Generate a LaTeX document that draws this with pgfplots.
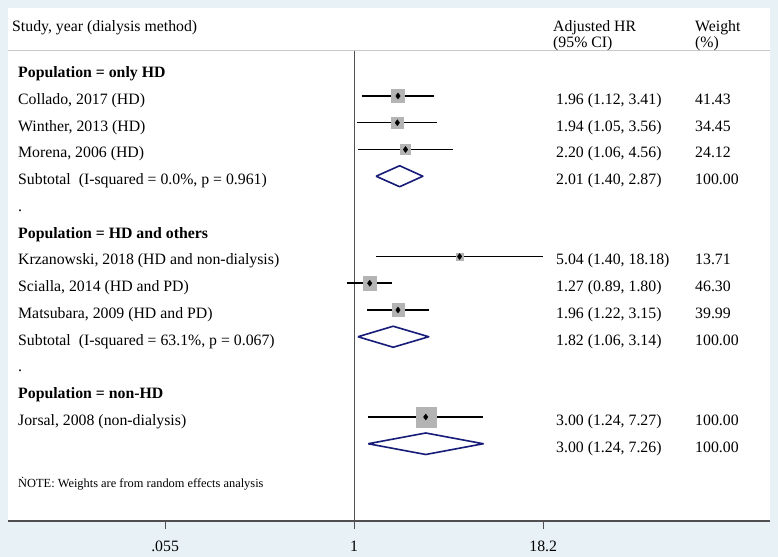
\documentclass[border=0pt]{standalone}
\usepackage{pgfplots}
\pgfplotsset{compat=1.18}
\usepackage{fontspec}
\setmainfont{Liberation Serif}
\definecolor{bgc}{RGB}{232,242,246}
\definecolor{axg}{RGB}{80,80,80}
\definecolor{hdr}{RGB}{200,200,200}
\definecolor{sqg}{RGB}{180,180,180}
\definecolor{dnavy}{RGB}{22,28,120}
\newcommand{\tf}{\fontsize{15.8bp}{18bp}\selectfont}
\begin{document}
\begin{tikzpicture}[x=1bp,y=1bp]
\fill[bgc] (-8,-36) rectangle (770,521);
\begin{axis}[
  at={(0,0)}, anchor=south west,
  scale only axis, width=762bp, height=513bp,
  xmode=log, xmin=0.00494, xmax=590,
  ymin=0, ymax=513,
  clip=false,
  axis background/.style={fill=white},
  axis x line=bottom, axis y line=none,
  x axis line style={-, draw=axg, line width=1.6bp},
  xtick={0.055,1,18.2}, xticklabels={.055,1,18.2},
  xminorticks=false,
  tick align=outside, major tick length=8bp,
  tick style={draw=axg, line width=1bp},
  xticklabel style={font=\tf, inner sep=0pt, anchor=north},
  xticklabel shift=12bp,
  /pgf/number format/assume math mode=true,
]
% reference line at HR = 1
\addplot[axg, line width=1bp] coordinates {(1,0) (1,471)};
% confidence intervals
\addplot[black, line width=1.5bp] coordinates {(1.12,425) (3.41,425)};
\addplot[black, line width=1.5bp] coordinates {(1.05,398.25) (3.56,398.25)};
\addplot[black, line width=1.5bp] coordinates {(1.06,371.5) (4.56,371.5)};
\addplot[black, line width=1.5bp] coordinates {(1.40,264.5) (18.18,264.5)};
\addplot[black, line width=1.5bp] coordinates {(0.89,237.75) (1.80,237.75)};
\addplot[black, line width=1.5bp] coordinates {(1.22,211) (3.15,211)};
\addplot[black, line width=1.5bp] coordinates {(1.24,104) (7.27,104)};
% weight squares
\addplot[only marks, mark=square*, mark size=6.4bp, sqg, mark options={draw=none}] coordinates {(1.96,425)};
\addplot[only marks, mark=square*, mark size=5.85bp, sqg, mark options={draw=none}] coordinates {(1.94,398.25)};
\addplot[only marks, mark=square*, mark size=4.9bp, sqg, mark options={draw=none}] coordinates {(2.20,371.5)};
\addplot[only marks, mark=square*, mark size=3.7bp, sqg, mark options={draw=none}] coordinates {(5.04,264.5)};
\addplot[only marks, mark=square*, mark size=6.8bp, sqg, mark options={draw=none}] coordinates {(1.27,237.75)};
\addplot[only marks, mark=square*, mark size=6.3bp, sqg, mark options={draw=none}] coordinates {(1.96,211)};
\addplot[only marks, mark=square*, mark size=10bp, sqg, mark options={draw=none}] coordinates {(3.00,104)};
% point estimates
\addplot[only marks, mark=diamond*, mark size=3pt, black] coordinates {
  (1.96,425) (1.94,398.25) (2.20,371.5) (5.04,264.5) (1.27,237.75) (1.96,211) (3.00,104)};
% pooled diamonds
\addplot[dnavy, line width=1.6bp, line join=round] coordinates {(1.40,344.75) (2.01,355.25) (2.87,344.75) (2.01,334.25) (1.40,344.75)};
\addplot[dnavy, line width=1.6bp, line join=round] coordinates {(1.06,184.25) (1.82,194.75) (3.14,184.25) (1.82,173.75) (1.06,184.25)};
\addplot[dnavy, line width=1.6bp, line join=round] coordinates {(1.24,77.25) (3.00,88) (7.26,77.25) (3.00,66.5) (1.24,77.25)};
\end{axis}
% header rule
\draw[hdr, line width=1bp] (0,470.5) -- (762,470.5);
% texts
\begin{scope}[every node/.style={inner sep=0pt, anchor=base west, font=\tf}]
\node at (4,489.5) {Study, year (dialysis method)};
\node at (545,489.5) {Adjusted HR};
\node at (545,473.5) {(95\% CI)};
\node at (687,489.5) {Weight};
\node at (687,473.5) {(\%)};
\node at (10,443.25) {\bfseries Population = only HD};
\node at (10,416.5) {Collado, 2017 (HD)};
\node at (10,389.75) {Winther, 2013 (HD)};
\node at (10,363) {Morena, 2006 (HD)};
\node at (10,336.25) {Subtotal\enspace(I-squared = 0.0\%, p = 0.961)};
\node at (10,309.5) {.};
\node at (10,282.75) {\bfseries Population = HD and others};
\node at (10,256) {Krzanowski, 2018 (HD and non-dialysis)};
\node at (10,229.25) {Scialla, 2014 (HD and PD)};
\node at (10,202.5) {Matsubara, 2009 (HD and PD)};
\node at (10,175.75) {Subtotal\enspace(I-squared = 63.1\%, p = 0.067)};
\node at (10,149) {.};
\node at (10,122.25) {\bfseries Population = non-HD};
\node at (10,95.5) {Jorsal, 2008 (non-dialysis)};
\node at (548,416.5) {1.96 (1.12, 3.41)};
\node at (548,389.75) {1.94 (1.05, 3.56)};
\node at (548,363) {2.20 (1.06, 4.56)};
\node at (548,336.25) {2.01 (1.40, 2.87)};
\node at (548,256) {5.04 (1.40, 18.18)};
\node at (548,229.25) {1.27 (0.89, 1.80)};
\node at (548,202.5) {1.96 (1.22, 3.15)};
\node at (548,175.75) {1.82 (1.06, 3.14)};
\node at (548,95.5) {3.00 (1.24, 7.27)};
\node at (548,68.75) {3.00 (1.24, 7.26)};
\node at (687,416.5) {41.43};
\node at (687,389.75) {34.45};
\node at (687,363) {24.12};
\node at (687,336.25) {100.00};
\node at (687,256) {13.71};
\node at (687,229.25) {46.30};
\node at (687,202.5) {39.99};
\node at (687,175.75) {100.00};
\node at (687,95.5) {100.00};
\node at (687,68.75) {100.00};
\node[font=\fontsize{12.4bp}{14bp}\selectfont] at (10,33) {\.{N}OTE: Weights are from random effects analysis};
\end{scope}
\end{tikzpicture}
\end{document}
